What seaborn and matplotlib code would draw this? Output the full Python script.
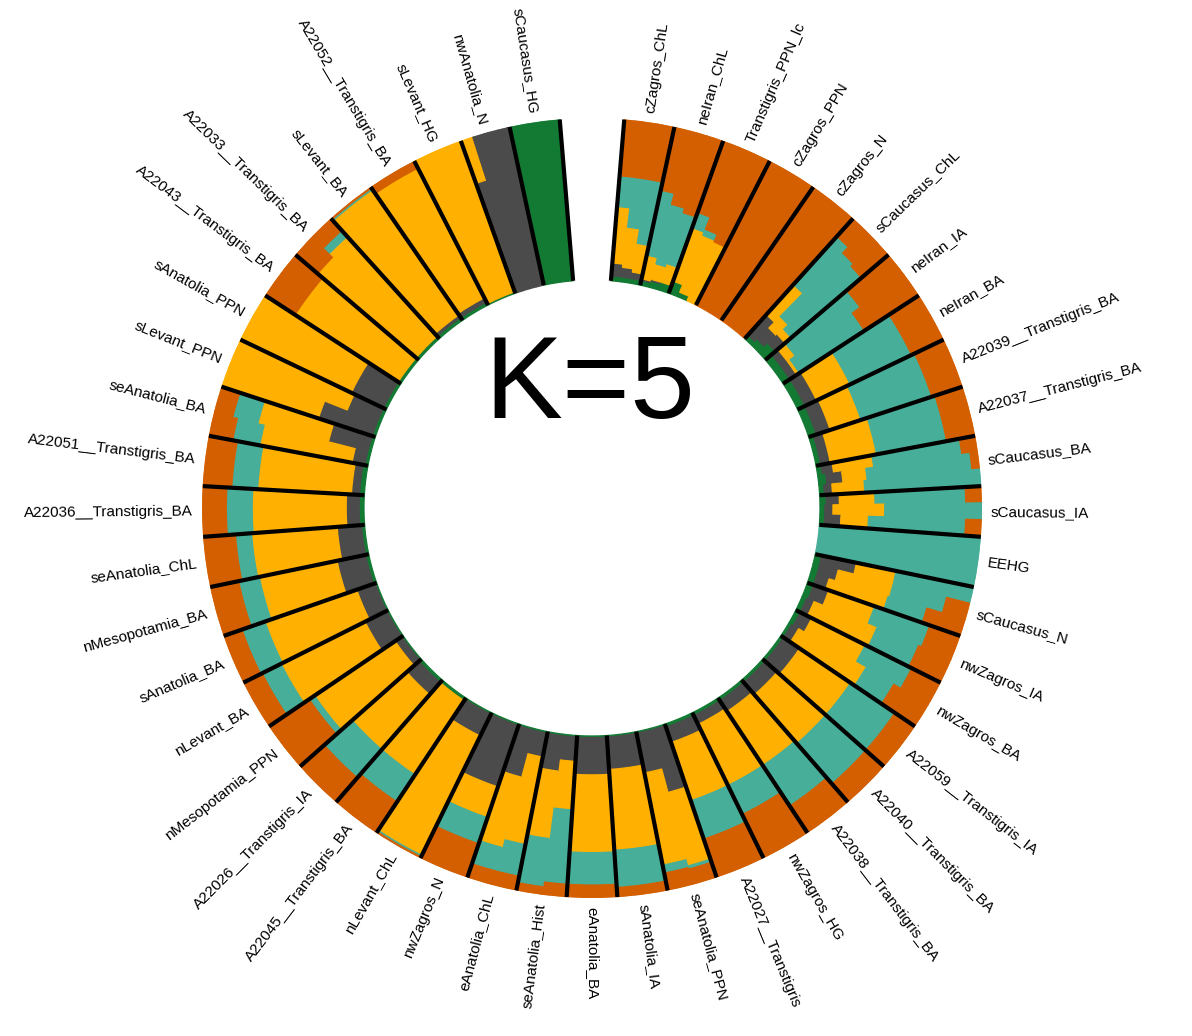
import numpy as np
import matplotlib
matplotlib.use("Agg")
import matplotlib.pyplot as plt
import seaborn as sns

# ADMIXTURE K=5 proportions, one sub-list per population (individual profiles)
groups = ["cZagros_ChL", "neIran_ChL", "Transtigris_PPN_lc", "cZagros_PPN", "cZagros_N",
          "sCaucasus_ChL", "neIran_IA", "neIran_BA", "A22039__Transtigris_BA", "A22037__Transtigris_BA",
          "sCaucasus_BA", "sCaucasus_IA", "EEHG", "sCaucasus_N", "nwZagros_IA",
          "nwZagros_BA", "A22059__Transtigris_IA", "A22040__Transtigris_BA", "A22038__Transtigris_BA", "nwZagros_HG",
          "A22027__Transtigris", "seAnatolia_PPN", "sAnatolia_IA", "eAnatolia_BA", "seAnatolia_Hist",
          "eAnatolia_ChL", "nwZagros_N", "nLevant_ChL", "A22045__Transtigris_BA", "A22026__Transtigris_IA",
          "nMesopotamia_PPN", "nLevant_BA", "sAnatolia_BA", "nMesopotamia_BA", "seAnatolia_ChL",
          "A22036__Transtigris_BA", "A22051__Transtigris_BA", "seAnatolia_BA", "sLevant_PPN", "sAnatolia_PPN",
          "A22043__Transtigris_BA", "A22033__Transtigris_BA", "sLevant_BA", "A22052__Transtigris_BA", "sLevant_HG",
          "nwAnatolia_N", "sCaucasus_HG"]

green = [
    [0.03, 0.03, 0.03], [0.03, 0.04, 0.05], [0.08, 0.03, 0.00], [0], [0],
    [0.03, 0.05, 0.08], [0.05, 0.05], [0.05], [0.05], [0.03],
    [0.03, 0.05, 0.03], [0.04, 0.03, 0.03], [0], [0.04, 0.04, 0.04], [0.04, 0.03],
    [0.03, 0.02], [0.02], [0.02], [0.02], [0.02],
    [0.02], [0.01, 0.01], [0.01], [0.01], [0.01, 0.01],
    [0.01, 0.01], [0.01], [0.01], [0.02], [0.02],
    [0.01], [0.01], [0.01], [0.02], [0.02],
    [0.03], [0.03], [0.02, 0.02], [0.02, 0.02], [0.02],
    [0.02], [0.02, 0.02], [0.02], [0.02], [0.01],
    [0, 0, 0, 0], [1],
]
gray = [
    [0.08, 0.06, 0.04], [0.01, 0.01, 0.00], [0, 0, 0], [0], [0],
    [0.17, 0.10, 0.08], [0.05, 0.05], [0.08], [0.09], [0.06],
    [0.07, 0.10, 0.05], [0.08, 0.05, 0.10], [0], [0.22, 0.12, 0.08], [0.10, 0.05],
    [0.08, 0.05], [0.12], [0.10], [0.08], [0.06],
    [0.10], [0.40, 0.25], [0.20], [0.23], [0.15, 0.22],
    [0.15, 0.30], [0.40], [0.15], [0.00], [0.10],
    [0.05], [0.15], [0.12], [0.18], [0.15],
    [0.08], [0.05], [0.08, 0.25], [0.35, 0.20], [0.22],
    [0.00], [0, 0], [0.02], [0.03], [0],
    [0.72, 1, 1, 1], [0],
]
yellow = [
    [0.35, 0.25, 0.18], [0.15, 0.10, 0.12], [0.35, 0.38, 0.40], [0], [0],
    [0.25, 0.10, 0.05], [0.06, 0.02], [0.23], [0.20], [0.29],
    [0.25, 0.15, 0.20], [0.22, 0.32, 0.17], [0], [0.25, 0.35, 0.38], [0.30, 0.42],
    [0.37, 0.48], [0.38], [0.40], [0.40], [0.42],
    [0.38], [0.47, 0.58], [0.50], [0.48], [0.30, 0.42],
    [0.55, 0.45], [0.20], [0.82], [0.55], [0.45],
    [0.60], [0.58], [0.60], [0.49], [0.53],
    [0.58], [0.58], [0.58, 0.45], [0.63, 0.78], [0.76],
    [0.76], [0.80, 0.83], [0.94], [0.90], [0.99],
    [0.28, 0, 0, 0], [0],
]
teal = [
    [0.19, 0.31, 0.40], [0.41, 0.38, 0.33], [0.10, 0.04, 0.00], [0], [0],
    [0.40, 0.55, 0.57], [0.50, 0.48], [0.42], [0.46], [0.44],
    [0.55, 0.65, 0.72], [0.56, 0.60, 0.60], [1], [0.49, 0.34, 0.25], [0.36, 0.28],
    [0.32, 0.20], [0.33], [0.33], [0.30], [0.20],
    [0.25], [0.02, 0.05], [0.23], [0.20], [0.46, 0.30],
    [0.20, 0.15], [0.17], [0.01], [0.20], [0.23],
    [0.04], [0.13], [0.15], [0.13], [0.10],
    [0.16], [0.16], [0.17, 0.16], [0, 0], [0],
    [0], [0, 0.05], [0.01], [0], [0],
    [0, 0, 0, 0], [0],
]
orange = [
    [0.35, 0.35, 0.35], [0.40, 0.47, 0.50], [0.47, 0.55, 0.60], [1], [1],
    [0.15, 0.20, 0.22], [0.34, 0.40], [0.22], [0.20], [0.18],
    [0.10, 0.05, 0.00], [0.10, 0.00, 0.10], [0], [0.00, 0.15, 0.25], [0.20, 0.22],
    [0.20, 0.25], [0.15], [0.15], [0.20], [0.30],
    [0.25], [0.10, 0.11], [0.06], [0.08], [0.08, 0.05],
    [0.09, 0.09], [0.22], [0.01], [0.23], [0.20],
    [0.30], [0.13], [0.12], [0.18], [0.20],
    [0.15], [0.18], [0.15, 0.12], [0, 0], [0],
    [0.22], [0.18, 0.10], [0.01], [0.05], [0],
    [0, 0, 0, 0], [0],
]

components = [green, gray, yellow, teal, orange]  # inner -> outer
colors = ["#127A33", "#4B4B4B", "#FFB000", "#47AE99", "#D35F00"]

sns.set_theme(style="white")
plt.rcParams["font.family"] = ["Liberation Sans", "DejaVu Sans"]

R_IN, R_OUT = 228, 390
GAP = 9.5
START = GAP / 2
step = (360 - GAP) / len(groups)

fig = plt.figure(figsize=(11.92, 10.36), dpi=100)
cx, cy = 592 / 1192, 1 - 508 / 1036
aw, ah = 2 * R_OUT / 1192, 2 * R_OUT / 1036
ax = fig.add_axes([cx - aw / 2, cy - ah / 2, aw, ah], projection="polar")
ax.set_theta_zero_location("N")
ax.set_theta_direction(-1)
ax.set_ylim(0, R_OUT)
ax.axis("off")

for g, name in enumerate(groups):
    g0 = START + g * step
    n = len(green[g])
    w = step / n
    for k in range(n):
        vals = np.array([comp[g][k] for comp in components], dtype=float)
        vals = vals / vals.sum()
        th = np.deg2rad(g0 + (k + 0.5) * w)
        base = R_IN
        for v, c in zip(vals, colors):
            if v <= 0:
                continue
            h = v * (R_OUT - R_IN)
            ax.bar(th, h, width=np.deg2rad(w) * 1.02, bottom=base, color=c,
                   edgecolor=c, linewidth=0.9, align="center")
            base += h

    # label
    mid = g0 + step / 2
    math_ang = 90 - mid
    if mid <= 180:
        rot, ha = math_ang, "left"
    else:
        rot, ha = math_ang + 180, "right"
    ax.text(np.deg2rad(mid), R_OUT + 9, name, rotation=rot, rotation_mode="anchor",
            ha=ha, va="center", fontsize=11, color="black", clip_on=False)

# black separators between populations
for g in range(len(groups) + 1):
    th = np.deg2rad(START + g * step)
    ax.plot([th, th], [R_IN, R_OUT], color="black", lw=3, solid_capstyle="butt")

fig.text(590 / 1192, 1 - 388 / 1036, "K=5", fontsize=84, ha="center", va="center",
         color="black")

fig.savefig("out.png", dpi=100, facecolor="white")
